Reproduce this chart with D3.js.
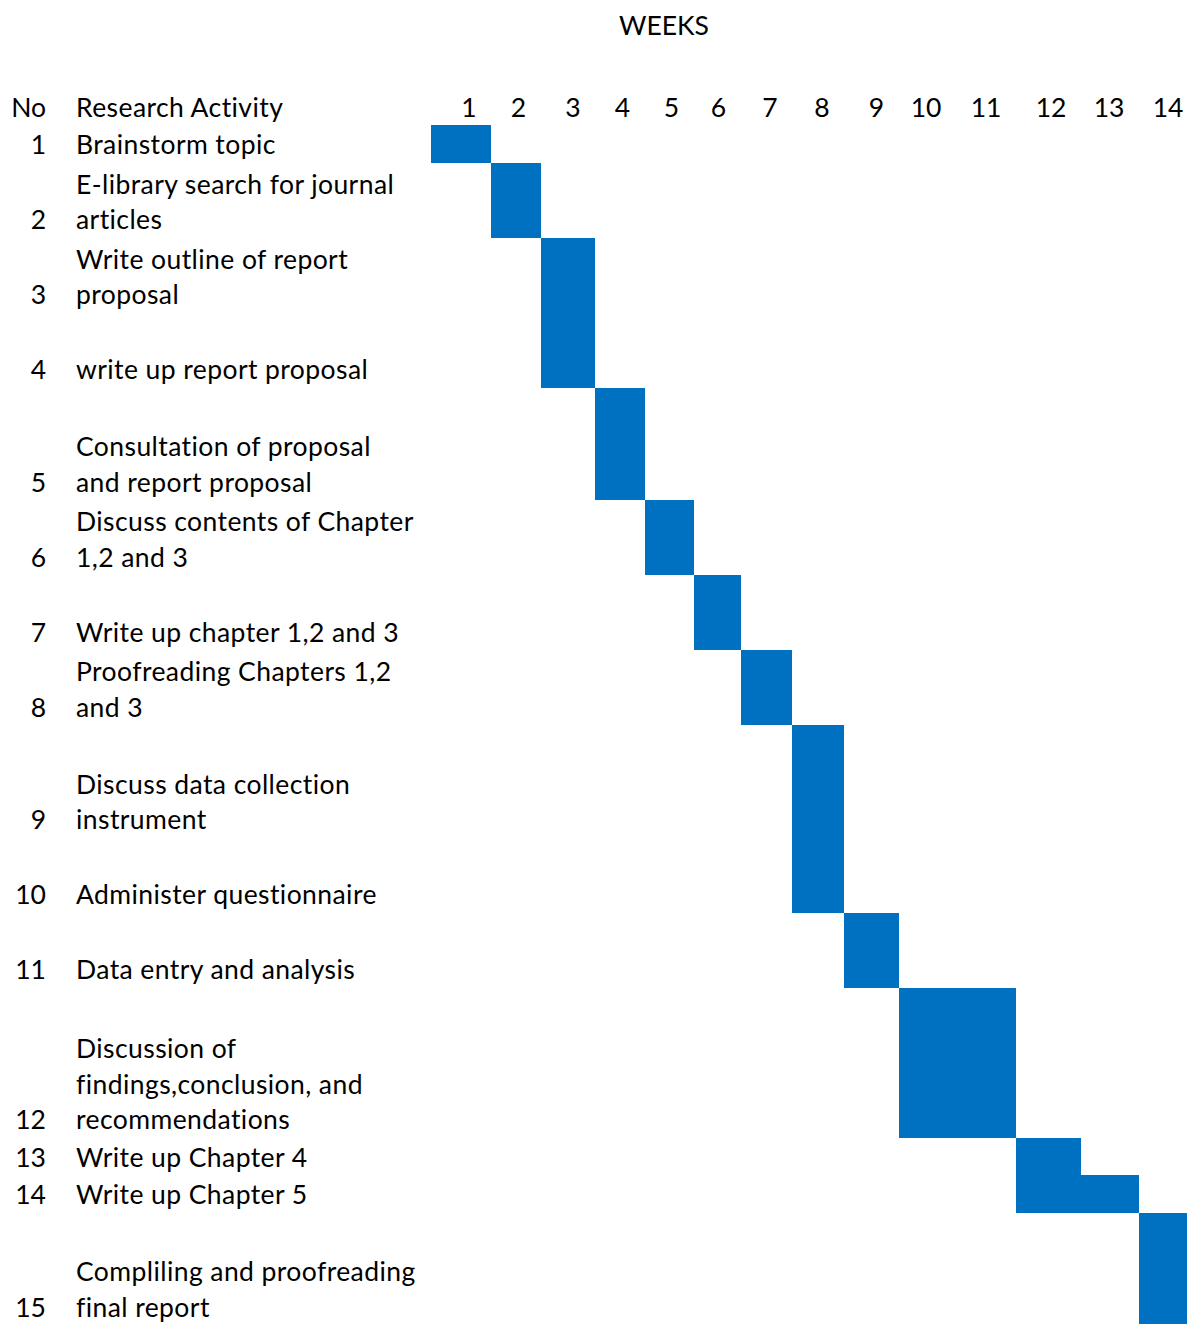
<!DOCTYPE html>
<html>
<head>
<meta charset="utf-8">
<script src="https://cdn.jsdelivr.net/npm/d3@7"></script>
<style>
  html, body { margin: 0; padding: 0; background: #fff; }
  svg { display: block; }
  text { font-family: Lato, "Open Sans", sans-serif; fill: #000;
         font-variant-ligatures: none; font-feature-settings: "liga" 0, "clig" 0; }
  text.label { letter-spacing: 0.42px; }
</style>
</head>
<body>
<svg id="chart" width="1187" height="1324"></svg>
<script>
// ---- schedule data ----
const activityNo = [1, 2, 3, 4, 5, 6, 7, 8, 9, 10, 11, 12, 13, 14, 15];
const activities = [
  ["Brainstorm topic"],
  ["E-library search for journal", "articles"],
  ["Write outline of report", "proposal"],
  ["write up report proposal"],
  ["Consultation of proposal", "and report proposal"],
  ["Discuss contents of Chapter", "1,2 and 3"],
  ["Write up chapter 1,2 and 3"],
  ["Proofreading Chapters 1,2", "and 3"],
  ["Discuss data collection", "instrument"],
  ["Administer questionnaire"],
  ["Data entry and analysis"],
  ["Discussion of", "findings,conclusion, and", "recommendations"],
  ["Write up Chapter 4"],
  ["Write up Chapter 5"],
  ["Compliling and proofreading", "final report"]
];
const startWeek = [1, 2, 3, 3, 4, 5, 6, 7, 8, 8, 9, 10, 12, 12, 14];
const endWeek   = [1, 2, 3, 3, 4, 5, 6, 7, 8, 8, 9, 11, 12, 13, 14];
const weeks = [1, 2, 3, 4, 5, 6, 7, 8, 9, 10, 11, 12, 13, 14];

// ---- sheet layout ----
const gridLeft = 431, gridTop = 125;
const colWidths = [60, 49.5, 54.5, 49.5, 49, 47, 51.5, 52, 54.5, 57.5, 60, 65, 58, 59];
const lineUnit = 37.5;
const rowLines = [1, 2, 2, 2, 3, 2, 2, 2, 3, 2, 2, 4, 1, 1, 3];
const fontSize = 26.5, textLead = 35.5, baseInset = 8.5;
const barColor = "#0070C0";

const svg = d3.select("#chart");

// piecewise scales: column / row boundary index -> pixel
const colEdges = [gridLeft];
colWidths.forEach(w => colEdges.push(colEdges[colEdges.length - 1] + w));
const x = d3.scaleLinear().domain(d3.range(1, weeks.length + 2)).range(colEdges);

const rowEdges = [gridTop];
rowLines.forEach(n => rowEdges.push(rowEdges[rowEdges.length - 1] + n * lineUnit));
const y = d3.scaleLinear().domain(d3.range(0, activityNo.length + 1)).range(rowEdges);

const rows = activityNo.map((no, i) => ({
  no, lines: activities[i], start: startWeek[i], end: endWeek[i], i
}));

// bars
svg.append("g").selectAll("rect").data(rows).join("rect")
  .attr("x", d => x(d.start))
  .attr("y", d => y(d.i))
  .attr("width", d => x(d.end + 1) - x(d.start))
  .attr("height", d => y(d.i + 1) - y(d.i))
  .attr("fill", barColor)
  .attr("shape-rendering", "crispEdges");

// title
svg.append("text").attr("x", 664).attr("y", 35)
  .attr("text-anchor", "middle").attr("font-size", fontSize).text("WEEKS");

// header row
const headBase = gridTop - baseInset;
svg.append("text").attr("x", 46).attr("y", headBase)
  .attr("text-anchor", "end").attr("font-size", fontSize).text("No");
svg.append("text").attr("class", "label").attr("x", 76).attr("y", headBase)
  .attr("font-size", fontSize).text("Research Activity");

// week axis labels
svg.append("g").selectAll("text").data(weeks).join("text")
  .attr("x", w => x(w + 1) - 14.5)
  .attr("y", headBase)
  .attr("text-anchor", "end")
  .attr("font-size", fontSize)
  .text(w => w);

// activity numbers and names, bottom-aligned in each row
const rowG = svg.append("g").selectAll("g").data(rows).join("g");
rowG.append("text")
  .attr("x", 46)
  .attr("y", d => y(d.i + 1) - baseInset)
  .attr("text-anchor", "end")
  .attr("font-size", fontSize)
  .text(d => d.no);
rowG.each(function(d) {
  const n = d.lines.length;
  d3.select(this).selectAll("text.label").data(d.lines).join("text")
    .attr("class", "label")
    .attr("x", 76)
    .attr("y", (s, k) => y(d.i + 1) - baseInset - (n - 1 - k) * textLead)
    .attr("font-size", fontSize)
    .text(s => s);
});
</script>
</body>
</html>
